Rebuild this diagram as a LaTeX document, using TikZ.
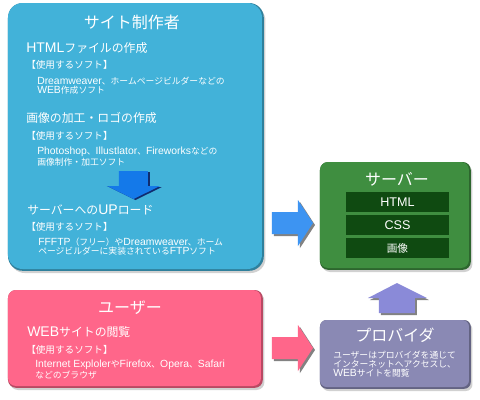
\documentclass[tikz,border=0pt]{standalone}
\usepackage{fontspec}
\setmainfont{Liberation Sans}[Scale=1.18]
\newfontfamily\jpfont{Noto Sans CJK JP}
\XeTeXinterchartokenstate=1
\newXeTeXintercharclass\myjpclass
\makeatletter
\newcommand\mysetjprange[2]{\count@=#1 \loop\ifnum\count@<#2 \XeTeXcharclass\count@=\myjpclass \advance\count@ by 1 \repeat}
\makeatother
\mysetjprange{"3000}{"3100}
\mysetjprange{"4E00}{"A000}
\mysetjprange{"FF00}{"FFF0}
\XeTeXinterchartoks 0 \myjpclass = {\jpfont}
\XeTeXinterchartoks 4095 \myjpclass = {\jpfont}
\XeTeXinterchartoks \myjpclass 0 = {\rmfamily}
\definecolor{blueBox}{HTML}{42B2D9}
\definecolor{pinkBox}{HTML}{FF668A}
\definecolor{greenBox}{HTML}{3F8E40}
\definecolor{greenInner}{HTML}{0F4A11}
\definecolor{purpleBox}{HTML}{8A89B4}
\definecolor{arrowBlue}{HTML}{3D94F2}
\definecolor{arrowDown}{HTML}{1479E9}
\definecolor{arrowPurple}{HTML}{8A8AD8}
\newcommand\mypanel[6]{%
  \fill[black,opacity=.18,rounded corners=#5] (#1+2,#2+3) rectangle (#3+3.5,#4+4);
  \fill[#6!72!black,rounded corners=#5] (#1,#2) rectangle (#3+1.8,#4+1.8);
  \fill[#6,rounded corners=#5] (#1,#2) rectangle (#3,#4);
}
\tikzset{
  ttl/.style={text=white,font=\fontsize{12}{14}\selectfont,inner sep=0pt},
  hd/.style={text=white,font=\fontsize{8.9}{10}\selectfont,inner sep=0pt,anchor=west},
  brk/.style={text=white,font=\fontsize{7.2}{8}\selectfont,inner sep=0pt,anchor=west},
  sm/.style={text=white,font=\fontsize{6.6}{6.9}\selectfont,inner sep=0pt,anchor=west,align=left},
  inbox/.style={fill=greenInner,text=white,font=\fontsize{8}{9}\selectfont,inner sep=0pt,minimum width=77.25pt,minimum height=15pt},
  ashadow/.style={fill=black!65,opacity=.75}
}
\begin{document}
\begin{tikzpicture}[x=0.75pt,y=-0.75pt]
\useasboundingbox (0,0) rectangle (480,400);
\fill[white] (0,0) rectangle (480,400);
% panels
\mypanel{8}{3}{262}{269}{11pt}{blueBox}
\mypanel{8}{290}{261}{386}{6pt}{pinkBox}
\mypanel{320}{162}{469}{268}{6pt}{greenBox}
\mypanel{320}{320}{469}{387}{5pt}{purpleBox}
% down arrow inside blue panel
\fill[ashadow,fill=black!70!blue] ([shift={(2,1)}]119,171) -- ++(29,0) -- ++(0,15) -- ++(12,0) -- (135.5,200) -- (107,186) -- (119,186) -- cycle;
\fill[arrowDown] (119,171) -- (148,171) -- (148,186) -- (160,186) -- (133.5,199) -- (107,186) -- (119,186) -- cycle;
% right arrows
\fill[ashadow] (274,214) -- (300,214) -- (300,202) -- (315,225) -- (300,248) -- (300,236) -- (274,236) -- cycle;
\fill[arrowBlue] (272,212) -- (298,212) -- (298,200) -- (313,223) -- (298,246) -- (298,234) -- (272,234) -- cycle;
\fill[ashadow] (274,339) -- (300,339) -- (300,327) -- (315,350) -- (300,373) -- (300,361) -- (274,361) -- cycle;
\fill[pinkBox] (272,337) -- (298,337) -- (298,325) -- (313,348) -- (298,371) -- (298,359) -- (272,359) -- cycle;
% up arrow
\fill[ashadow] (381,315) -- (381,300) -- (370,300) -- (399,285) -- (429,300) -- (417,300) -- (417,315) -- cycle;
\fill[arrowPurple] (379,313) -- (379,298) -- (368,298) -- (397,283) -- (427,298) -- (415,298) -- (415,313) -- cycle;
% blue panel texts
\node[ttl] (t1) at (132,22) {サイト制作者};
\node[hd] (h1) at (26,48) {HTMLファイルの作成};
\node[brk] (b1) at (26,65) {【使用するソフト】};
\node[sm] (s1) at (37,86) {Dreamweaver、ホームページビルダーなどの\\WEB作成ソフト};
\node[hd] (h2) at (26,118) {画像の加工・ロゴの作成};
\node[brk] (b2) at (26,136) {【使用するソフト】};
\node[sm] (s2) at (37,156.5) {Photoshop、Illustlator、Fireworksなどの\\画像制作・加工ソフト};
\node[hd] (h3) at (27,210) {サーバーへのUPロード};
\node[brk] (b3) at (26,227) {【使用するソフト】};
\node[sm] (s3) at (38,246.5) {FFFTP（フリー）やDreamweaver、ホーム\\ページビルダーに実装されているFTPソフト};
% pink panel texts
\node[ttl] (t2) at (130,308) {ユーザー};
\node[hd] (h4) at (27,332) {WEBサイトの閲覧};
\node[brk] (b4) at (26,350) {【使用するソフト】};
\node[sm] (s4) at (35,369.5) {Internet ExplolerやFirefox、Opera、Safari\\などのブラウザ};
% green panel
\node[ttl] (t3) at (397,179) {サーバー};
\node[inbox] (i1) at (397.5,202) {HTML};
\node[inbox] (i2) at (397.5,225) {CSS};
\node[inbox] (i3) at (397.5,248) {画像};
% purple panel
\node[ttl] (t4) at (395,335) {プロバイダ};
\node[sm] (s5) at (333,364) {ユーザーはプロバイダを通じて\\インターネットへアクセスし、\\WEBサイトを閲覧};
\end{tikzpicture}
\end{document}
